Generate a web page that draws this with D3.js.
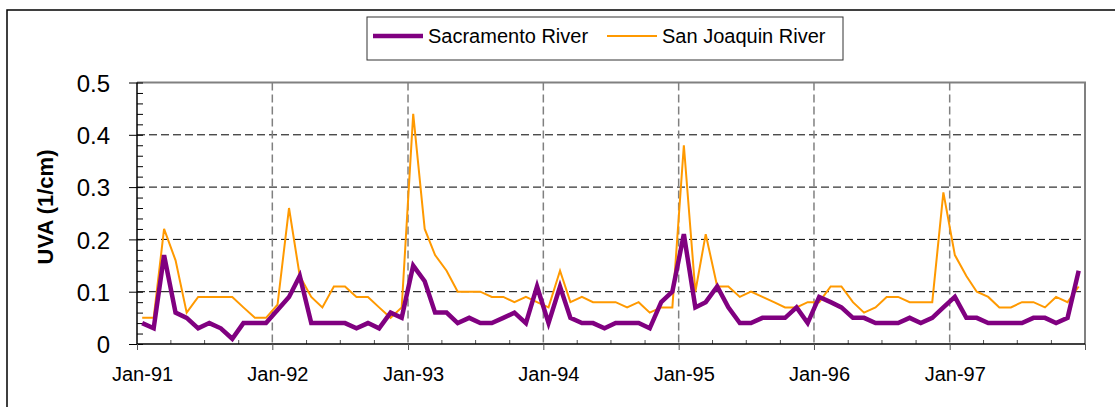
<!DOCTYPE html>
<html>
<head>
<meta charset="utf-8">
<script src="https://cdn.jsdelivr.net/npm/d3@7"></script>
<style>
  body { margin: 0; background: #fff; }
  text { font-family: "Liberation Sans", Arial, sans-serif; }
</style>
</head>
<body>
<div id="chart"></div>
<script>
var svgWidth = 1115;
var svgHeight = 407;

// monthly samples, Jan-91 .. Dec-97
var years = [1991, 1992, 1993, 1994, 1995, 1996, 1997];
var tickYears = [1991, 1992, 1993, 1994, 1995, 1996, 1997, 1998];
var seriesNames = ["Sacramento River", "San Joaquin River"];
var yTicks = [0, 0.1, 0.2, 0.3, 0.4, 0.5];

var sacramento = [
  0.04, 0.03, 0.17, 0.06, 0.05, 0.03, 0.04, 0.03, 0.01, 0.04, 0.04, 0.04,
  0.065, 0.09, 0.13, 0.04, 0.04, 0.04, 0.04, 0.03, 0.04, 0.03, 0.06, 0.05,
  0.15, 0.12, 0.06, 0.06, 0.04, 0.05, 0.04, 0.04, 0.05, 0.06, 0.04, 0.11,
  0.04, 0.11, 0.05, 0.04, 0.04, 0.03, 0.04, 0.04, 0.04, 0.03, 0.08, 0.10,
  0.21, 0.07, 0.08, 0.11, 0.07, 0.04, 0.04, 0.05, 0.05, 0.05, 0.07, 0.04,
  0.09, 0.08, 0.07, 0.05, 0.05, 0.04, 0.04, 0.04, 0.05, 0.04, 0.05, 0.07,
  0.09, 0.05, 0.05, 0.04, 0.04, 0.04, 0.04, 0.05, 0.05, 0.04, 0.05, 0.14
];

var sanJoaquin = [
  0.05, 0.05, 0.22, 0.16, 0.06, 0.09, 0.09, 0.09, 0.09, 0.07, 0.05, 0.05,
  0.075, 0.26, 0.13, 0.09, 0.07, 0.11, 0.11, 0.09, 0.09, 0.07, 0.05, 0.07,
  0.44, 0.22, 0.17, 0.14, 0.10, 0.10, 0.10, 0.09, 0.09, 0.08, 0.09, 0.08,
  0.07, 0.14, 0.08, 0.09, 0.08, 0.08, 0.08, 0.07, 0.08, 0.06, 0.07, 0.07,
  0.38, 0.10, 0.21, 0.11, 0.11, 0.09, 0.10, 0.09, 0.08, 0.07, 0.07, 0.08,
  0.08, 0.11, 0.11, 0.08, 0.06, 0.07, 0.09, 0.09, 0.08, 0.08, 0.08, 0.29,
  0.17, 0.13, 0.10, 0.09, 0.07, 0.07, 0.08, 0.08, 0.07, 0.09, 0.08, 0.11
];

var colors = ["#800080", "#FF9900"];
var widths = [4.5, 2];

var plot = { left: 137, right: 1085, top: 82.5, bottom: 344 };

var dates = [];
years.forEach(function(y) {
  for (var m = 0; m < 12; m++) dates.push(new Date(y, m, 15));
});

var svg = d3.select("#chart")
  .append("svg")
  .attr("width", svgWidth)
  .attr("height", svgHeight);

// outer frame (runs off the right and bottom edges)
svg.append("rect")
  .attr("x", 7).attr("y", 10)
  .attr("width", 1130).attr("height", 420)
  .attr("fill", "#fff")
  .attr("stroke", "#000")
  .attr("stroke-width", 1.5);

var xScale = d3.scaleTime()
  .domain([new Date(1991, 0, 1), new Date(1998, 0, 1)])
  .range([plot.left, plot.right]);

var yScale = d3.scaleLinear()
  .domain([0, 0.5])
  .range([plot.bottom, plot.top]);

// horizontal grid
svg.append("g")
  .selectAll("line")
  .data(yTicks.filter(d => d > 0 && d < 0.5))
  .enter()
  .append("line")
  .attr("x1", plot.left).attr("x2", plot.right)
  .attr("y1", d => yScale(d)).attr("y2", d => yScale(d))
  .attr("stroke", "#000")
  .attr("stroke-width", 1)
  .attr("stroke-dasharray", "8,4");

// vertical grid at each January
svg.append("g")
  .selectAll("line")
  .data(tickYears.slice(1, -1))
  .enter()
  .append("line")
  .attr("x1", d => xScale(new Date(d, 0, 1)))
  .attr("x2", d => xScale(new Date(d, 0, 1)))
  .attr("y1", plot.top).attr("y2", plot.bottom)
  .attr("stroke", "#808080")
  .attr("stroke-width", 1.5)
  .attr("stroke-dasharray", "8,4");

// plot area border (top / right)
svg.append("path")
  .attr("d", `M${plot.left},${plot.top}H${plot.right}V${plot.bottom}`)
  .attr("fill", "none")
  .attr("stroke", "#808080")
  .attr("stroke-width", 2);

// y axis: major ticks cross, minor inside
var yMinor = d3.range(0, 0.5001, 0.02);
svg.append("g")
  .attr("transform", `translate(${plot.left},0)`)
  .call(d3.axisRight(yScale).tickValues(yMinor).tickSize(6).tickFormat(""))
  .call(g => g.select(".domain").remove())
  .selectAll("line").attr("stroke", "#000");

var yAxis = svg.append("g")
  .attr("transform", `translate(${plot.left},0)`)
  .call(d3.axisLeft(yScale).tickValues(yTicks).tickSize(8).tickPadding(19)
    .tickFormat(d => d === 0 ? "0" : d3.format(".1f")(d)));
yAxis.select(".domain").attr("stroke", "#000").attr("stroke-width", 1.5).attr("d", `M0,${plot.top}V${plot.bottom}`);
yAxis.selectAll("text")
  .attr("font-size", "24px")
  .attr("fill", "#000")
  .attr("dy", "0.36em");

svg.append("text")
  .attr("transform", `translate(45, 207) rotate(-90)`)
  .attr("text-anchor", "middle")
  .attr("dy", "0.35em")
  .attr("font-size", "22px")
  .attr("font-weight", "bold")
  .text("UVA (1/cm)");

// x axis: quarterly minor ticks inside, yearly major ticks
var xMinor = [];
years.forEach(function(y) {
  [3, 6, 9].forEach(m => xMinor.push(new Date(y, m, 1)));
});
svg.append("g")
  .attr("transform", `translate(0,${plot.bottom})`)
  .call(d3.axisTop(xScale).tickValues(xMinor).tickSize(4).tickFormat(""))
  .call(g => g.select(".domain").remove())
  .selectAll("line").attr("stroke", "#555");

var xAxis = svg.append("g")
  .attr("transform", `translate(0,${plot.bottom})`)
  .call(d3.axisBottom(xScale)
    .tickValues(tickYears.map(y => new Date(y, 0, 1)))
    .tickSize(6)
    .tickFormat(""));
xAxis.select(".domain").attr("stroke", "#000").attr("stroke-width", 1.5).attr("d", `M${plot.left},0H${plot.right}`);
xAxis.selectAll("line").attr("stroke", "#555");

svg.append("g")
  .selectAll("text")
  .data(years)
  .enter()
  .append("text")
  .attr("x", d => xScale(new Date(d, 0, 16)))
  .attr("y", 381)
  .attr("text-anchor", "middle")
  .attr("font-size", "20px")
  .attr("fill", "#000")
  .text(d => "Jan-" + String(d).slice(2));

// series
var line = d3.line()
  .x((d, i) => xScale(dates[i]))
  .y(d => yScale(d));

[sanJoaquin, sacramento].forEach(function(values, k) {
  var idx = k === 0 ? 1 : 0;
  svg.append("path")
    .datum(values)
    .attr("fill", "none")
    .attr("stroke", colors[idx])
    .attr("stroke-width", widths[idx])
    .attr("stroke-linejoin", "miter")
    .attr("d", line);
});

// legend
var legend = svg.append("g");
legend.append("rect")
  .attr("x", 367).attr("y", 17)
  .attr("width", 476).attr("height", 43)
  .attr("fill", "#fff")
  .attr("stroke", "#333")
  .attr("stroke-width", 1);

var legendX = [373, 607];
seriesNames.forEach(function(name, i) {
  legend.append("line")
    .attr("x1", legendX[i]).attr("x2", legendX[i] + 50)
    .attr("y1", 36).attr("y2", 36)
    .attr("stroke", colors[i])
    .attr("stroke-width", widths[i]);
  legend.append("text")
    .attr("x", legendX[i] + 55)
    .attr("y", 43)
    .attr("font-size", "20px")
    .attr("fill", "#000")
    .text(name);
});
</script>
</body>
</html>
